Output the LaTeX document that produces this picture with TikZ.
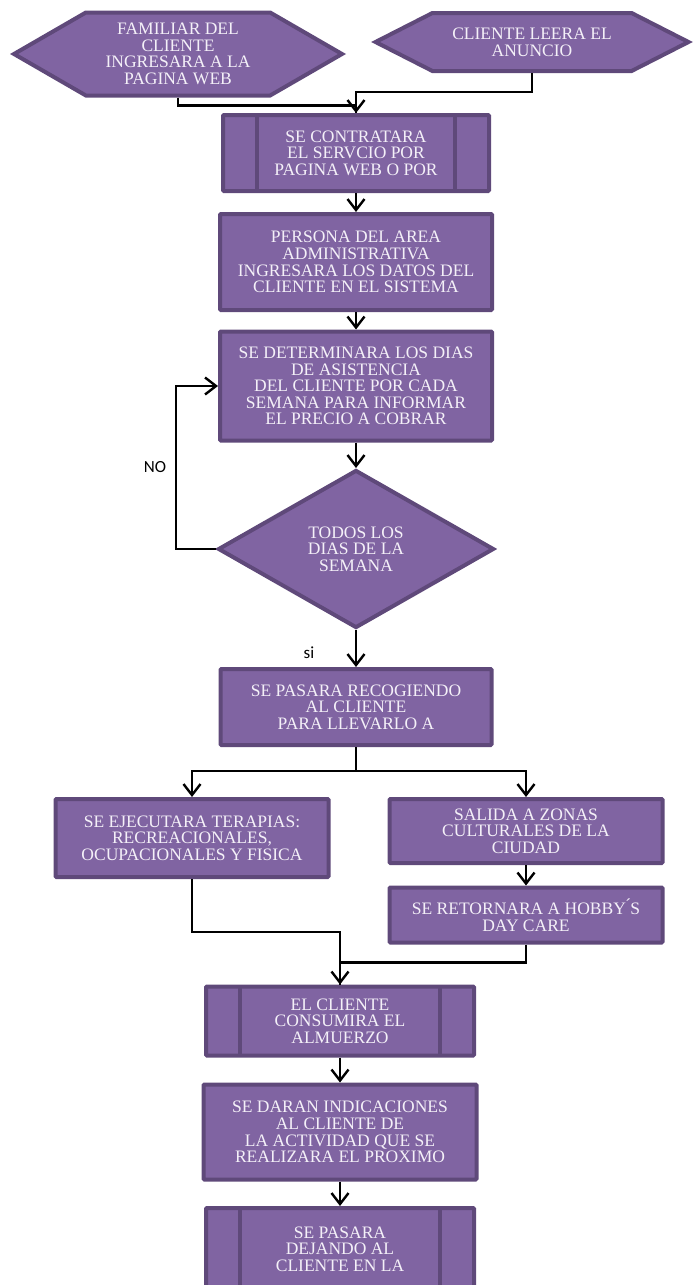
\documentclass[tikz,border=0pt]{standalone}
\usepackage{fontspec}
\setmainfont{Liberation Serif}
\newfontfamily\lblfont{Carlito}
\usetikzlibrary{arrows.meta,
                shapes.geometric,
                shapes.symbols}
\definecolor{pfill}{HTML}{8064A2}
\definecolor{pline}{HTML}{5F497A}
\definecolor{ptext}{HTML}{F4F0F8}

\begin{document}
\begin{tikzpicture}[x=1pt, y=-1pt,
    BX/.style = {draw=pline, fill=pfill, line width=4pt,
                 text=ptext, align=center, inner sep=2pt,
                 font=\fontsize{17.5}{16.6}\selectfont},
   BOX/.style = {BX, rectangle, rounded corners=1pt},
   PRC/.style = {BOX,        % predefined process
                 path picture={\draw[pline, line width=4pt]
                   ([xshift=34pt]path picture bounding box.north west) --
                   ([xshift=34pt]path picture bounding box.south west)
                   ([xshift=-34pt]path picture bounding box.north east) --
                   ([xshift=-34pt]path picture bounding box.south east);}},
   HEX/.style = {BX, signal, signal to=west and east,
                 signal pointer angle=#1},
   DIA/.style = {BX, diamond, inner sep=0pt},
    LN/.style = {line width=2.4pt},
   ARR/.style = {LN, -{Straight Barb[length=11pt, width=17pt]}},
   LBL/.style = {font=\lblfont\fontsize{17}{19}\selectfont}
                        ]
\useasboundingbox (0,0) rectangle (694,1285);
% entradas
\node (fam)  [HEX=60, minimum width=328pt, minimum height=83pt] at (178,54)
      {FAMILIAR DEL\\ CLIENTE\\ INGRESARA A LA\\ PAGINA WEB};
\node (anun) [HEX=54, minimum width=313pt, minimum height=58pt] at (532,42)
      {CLIENTE LEERA EL\\ ANUNCIO};
% tronco central
\node (contr) [PRC, minimum width=266pt, minimum height=76pt] at (356,153)
      {SE CONTRATARA\\ EL SERVCIO POR\\ PAGINA WEB O POR};
\node (pers)  [BOX, minimum width=272pt, minimum height=96pt] at (356,262)
      {PERSONA DEL AREA\\ ADMINISTRATIVA\\ INGRESARA LOS DATOS DEL\\ CLIENTE EN EL SISTEMA};
\node (det)   [BOX, minimum width=272pt, minimum height=109pt] at (356,386)
      {SE DETERMINARA LOS DIAS\\ DE ASISTENCIA\\ DEL CLIENTE POR CADA\\ SEMANA PARA INFORMAR\\ EL PRECIO A COBRAR};
\node (todos) [DIA, minimum width=276pt, minimum height=158pt] at (356,549)
      {TODOS LOS\\ DIAS DE LA\\ SEMANA};
\node (recog) [BOX, minimum width=271pt, minimum height=76pt] at (356,707)
      {SE PASARA RECOGIENDO\\ AL CLIENTE\\ PARA LLEVARLO A};
% ramas
\node (ter) [BOX, minimum width=273pt, minimum height=78pt] at (192,838)
      {SE EJECUTARA TERAPIAS:\\ RECREACIONALES,\\ OCUPACIONALES Y FISICA};
\node (sal) [BOX, minimum width=273pt, minimum height=64pt] at (526,831)
      {SALIDA A ZONAS\\ CULTURALES DE LA\\ CIUDAD};
\node (ret) [BOX, minimum width=273pt, minimum height=55pt] at (526,915)
      {SE RETORNARA A HOBBY\'{}S\\ DAY CARE};
% cierre
\node (alm)   [PRC, minimum width=268pt, minimum height=69pt] at (340,1021)
      {EL CLIENTE\\ CONSUMIRA EL\\ ALMUERZO};
\node (indic) [BOX, minimum width=273pt, minimum height=95pt] at (340,1132)
      {SE DARAN INDICACIONES\\ AL CLIENTE DE\\ LA ACTIVIDAD QUE SE\\ REALIZARA EL PROXIMO};
\node (dej)   [PRC, minimum width=268pt, minimum height=82pt] at (340,1249)
      {SE PASARA\\ DEJANDO AL\\ CLIENTE EN LA};
% etiquetas
\node (no) [LBL] at (155,467) {NO};
\node (si) [LBL] at (309,653) {si};
% conectores
\draw[LN]  (fam.south)  -- ++(0,8)  -| (contr.north);
\draw[ARR] (anun.south) -- ++(0,19) -| (contr.north);
\draw[ARR] (contr) -- (pers);
\draw[ARR] (pers)  -- (det);
\draw[ARR] (det)   -- (todos);
\draw[ARR] (todos) -- (recog);
\draw[ARR] (todos.west) -- ++(-40,0) |- (det.west);
\draw[ARR] (recog.south) -- ++(0,24) -| (ter.north);
\draw[ARR] (recog.south) -- ++(0,24) -| (sal.north);
\draw[ARR] (sal) -- (ret);
\draw[ARR] (ter.south) -- ++(0,53) -| (alm.north);
\draw[LN]  (ret.south) -- ++(0,18) -| (alm.north);
\draw[ARR] (alm)   -- (indic);
\draw[ARR] (indic) -- (dej);
\end{tikzpicture}
\end{document}
